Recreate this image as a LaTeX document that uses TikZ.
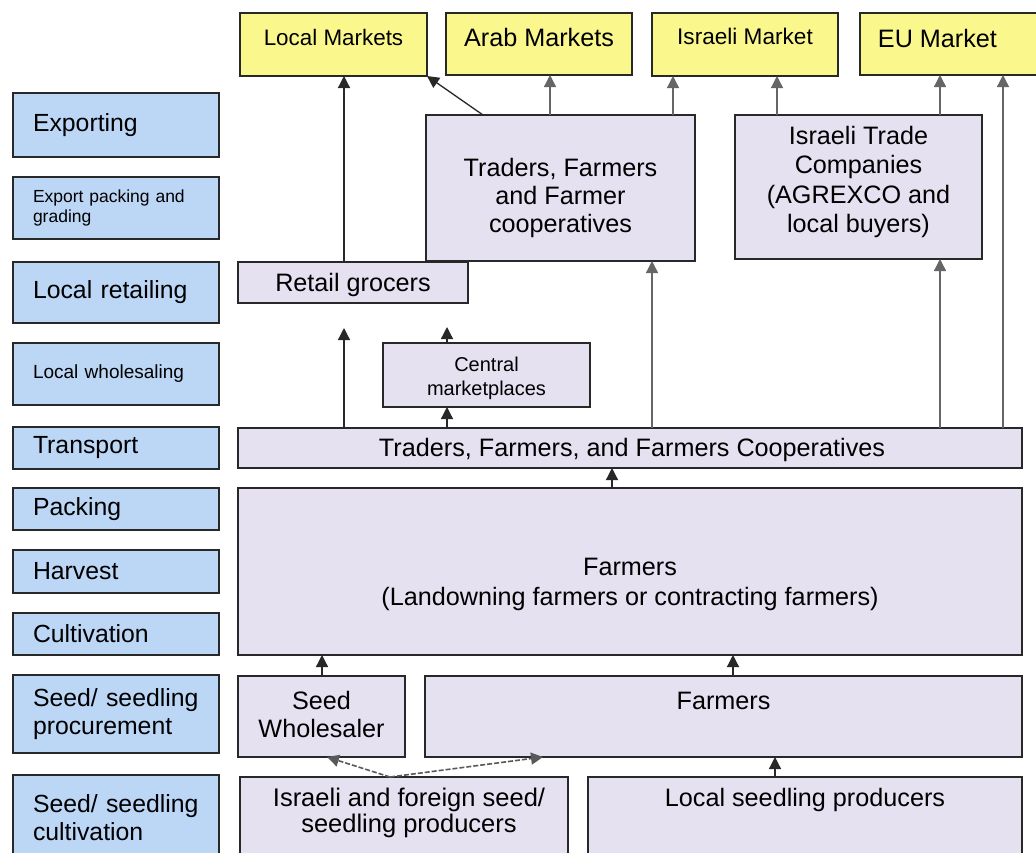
\documentclass[tikz,border=0pt]{standalone}
\usepackage{fontspec}
\setmainfont{Liberation Sans}
\usetikzlibrary{arrows.meta}
\definecolor{lblue}{RGB}{188,214,245}
\definecolor{myyel}{RGB}{250,248,140}
\definecolor{lav}{RGB}{229,225,241}
\definecolor{edge}{RGB}{40,40,40}
\begin{document}
\begin{tikzpicture}[x=1pt,y=-1pt,
  boxbase/.style={draw=edge, line width=1.4pt, inner sep=0pt, outer sep=0pt},
  lbl/.style={boxbase, fill=lblue, minimum width=206pt, text width=166pt, align=left,
    font=\fontsize{24.8}{28}\selectfont},
  lblsmall/.style={lbl, font=\fontsize{17.5}{20}\selectfont},
  mkt/.style={boxbase, fill=myyel},
  act/.style={boxbase, fill=lav},
  txt/.style={inner sep=0pt, align=center, font=\fontsize{25.2}{28}\selectfont},
  arr/.style={draw=edge, line width=1.3pt, -{Triangle[width=12pt,length=12pt]}},
  garr/.style={arr, draw=black!60},
  darr/.style={draw=black!65, line width=1.6pt, dashed, dash pattern=on 5pt off 2pt,
    -{Triangle[width=12pt,length=12pt]}}
]
\clip (0,0) rectangle (1036,852);
\fill[white] (0,0) rectangle (1036,852);

% left stage labels
\node[lbl, minimum height=64pt] (exp) at (116,125) {Exporting};
\node[lblsmall, minimum height=62pt] (epg) at (116,208) {Export packing and\\grading};
\node[lbl, minimum height=61pt] (lret) at (116,292.5) {Local retailing};
\node[lbl, minimum height=62pt, font=\fontsize{19}{22}\selectfont] (lwh) at (116,374) {Local wholesaling};
\node[lbl, minimum height=42pt] (trn) at (116,448) {Transport};
\node[lbl, minimum height=42pt] (pck) at (116,509) {Packing};
\node[lbl, minimum height=43pt] (hrv) at (116,571.5) {Harvest};
\node[lbl, minimum height=42pt] (cul) at (116,634) {Cultivation};
\node[lbl, minimum height=78pt] (spr) at (116,714) {Seed/ seedling\\procurement};
\node[lbl, minimum height=85pt] (scu) at (116,817.5) {Seed/ seedling\\cultivation};

% markets
\node[mkt, minimum width=187pt, minimum height=63pt,
  label={[txt, name=lmt, yshift=7pt, font=\fontsize{22.4}{24}\selectfont]center:Local Markets}] (lm) at (333.5,44.5) {};
\node[mkt, minimum width=186pt, minimum height=62pt,
  label={[txt, name=amt, yshift=7pt, font=\fontsize{25.2}{28}\selectfont]center:Arab Markets}] (am) at (539,44) {};
\node[mkt, minimum width=186pt, minimum height=63pt,
  label={[txt, name=imt, yshift=8pt, font=\fontsize{22.6}{24}\selectfont]center:Israeli Market}] (im) at (745,44.5) {};
\node[mkt, minimum width=185pt, minimum height=62pt,
  label={[txt, name=eut, yshift=6pt, xshift=-15pt, font=\fontsize{25.2}{28}\selectfont]center:EU Market}] (eu) at (952.5,44) {};

% actors
\node[act, minimum width=269pt, minimum height=146pt,
  label={[txt, name=trt, yshift=-10pt]center:Traders, Farmers\\and Farmer\\cooperatives}] (tr) at (560.5,188) {};
\node[act, minimum width=247pt, minimum height=144pt,
  label={[txt, name=itct, yshift=5pt, font=\fontsize{25.2}{29.5}\selectfont]center:Israeli Trade\\Companies\\(AGREXCO and\\local buyers)}] (itc) at (858.5,187) {};
\node[act, minimum width=230pt, minimum height=41pt,
  label={[txt, name=rgt, yshift=-2pt]center:Retail grocers}] (rg) at (353,282.5) {};
\node[act, minimum width=207pt, minimum height=64pt,
  label={[txt, name=cmt, yshift=-3pt, font=\fontsize{20}{24}\selectfont]center:Central\\marketplaces}] (cm) at (486.5,375) {};
\node[act, minimum width=784pt, minimum height=40pt,
  label={[txt, name=tbt, yshift=-2pt, xshift=2pt]center:Traders, Farmers, and Farmers Cooperatives}] (tb) at (630,448) {};
\node[act, minimum width=784pt, minimum height=167pt,
  label={[txt, name=bft, yshift=-13pt, font=\fontsize{25.2}{30}\selectfont]center:Farmers\\(Landowning farmers or contracting farmers)}] (bf) at (630,571.5) {};
\node[act, minimum width=167pt, minimum height=81pt,
  label={[txt, name=swt, yshift=2pt]center:Seed\\Wholesaler}] (sw) at (321.5,716.5) {};
\node[act, minimum width=597pt, minimum height=81pt,
  label={[txt, name=f2t, yshift=16pt]center:Farmers}] (f2) at (723.5,716.5) {};
\node[act, minimum width=328pt, minimum height=88pt,
  label={[txt, name=ispt, yshift=8pt, xshift=5pt, font=\fontsize{25.5}{26}\selectfont]center:Israeli and foreign seed/\\seedling producers}] (isp) at (404,821) {};
\node[act, minimum width=434pt, minimum height=88pt,
  label={[txt, name=lspt, yshift=21pt]center:Local seedling producers}] (lsp) at (805,821) {};

% x positions of connectors
\coordinate (xa) at (344,0);
\coordinate (xb) at (447,0);
\coordinate (xd) at (483,0);
\coordinate (xe) at (550,0);
\coordinate (xf) at (673,0);
\coordinate (xg) at (777,0);
\coordinate (xh) at (940,0);
\coordinate (xi) at (1003,0);
\coordinate (xj) at (652,0);
\coordinate (xk) at (612,0);
\coordinate (xl) at (322,0);
\coordinate (xm) at (733,0);
\coordinate (xn) at (775,0);
\coordinate (xo) at (390,0);
\coordinate (xp) at (327,0);
\coordinate (xq) at (543,0);

% connectors
\draw[arr] (rg.north -| xa) -- (lm.south -| xa);
\draw[arr] (tr.north -| xd) -- (lm.south east);
\draw[garr] (tr.north -| xe) -- (am.south -| xe);
\draw[garr] (tr.north -| xf) -- (im.south -| xf);
\draw[garr] (itc.north -| xg) -- (im.south -| xg);
\draw[garr] (itc.north -| xh) -- (eu.south -| xh);
\draw[garr] (tb.north -| xi) -- (eu.south -| xi);
\draw[garr] (tb.north -| xj) -- (tr.south -| xj);
\draw[garr] (tb.north -| xh) -- (itc.south -| xh);
\draw[arr] (tb.north -| xa) -- ++(0,-100);
\draw[arr] (tb.north -| xb) -- (cm.south -| xb);
\draw[arr] (cm.north -| xb) -- ++(0,-16);
\draw[arr] (bf.north -| xk) -- (tb.south -| xk);
\draw[arr] (sw.north -| xl) -- (bf.south -| xl);
\draw[arr] (f2.north -| xm) -- (bf.south -| xm);
\draw[arr] (lsp.north -| xn) -- (f2.south -| xn);
\draw[darr] (isp.north -| xo) -- (sw.south -| xp);
\draw[darr] (isp.north -| xo) -- (f2.south -| xq);
\end{tikzpicture}
\end{document}
